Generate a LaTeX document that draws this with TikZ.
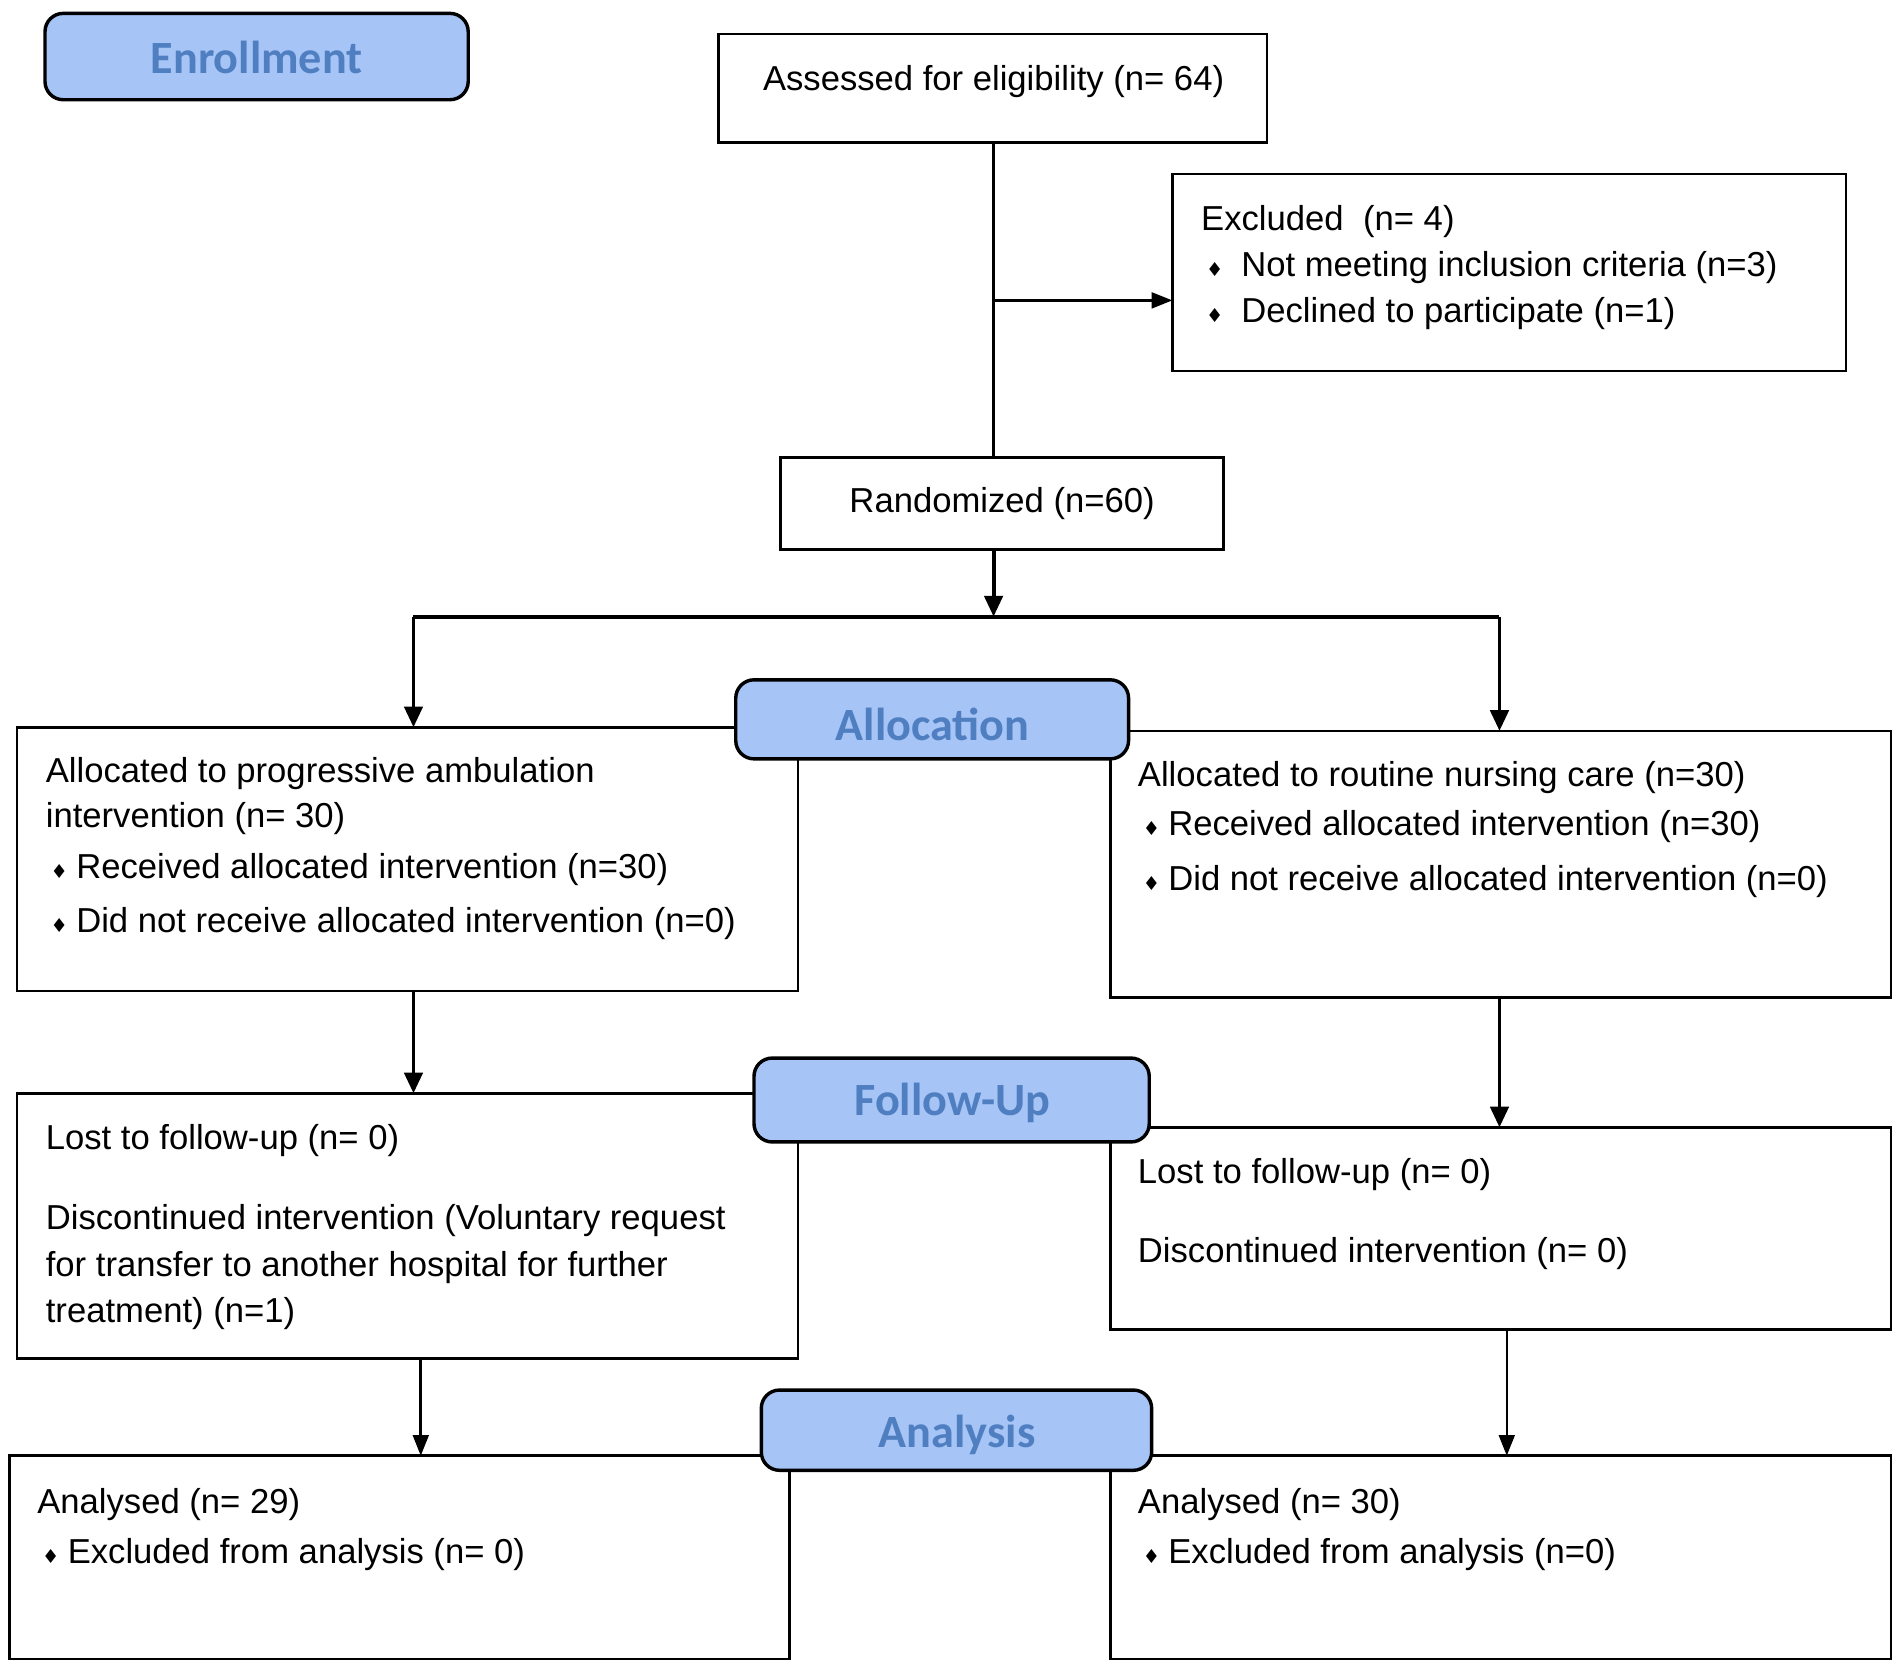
\documentclass[tikz,border=0pt]{standalone}
\usepackage{fontspec}
\setmainfont{Liberation Sans}
\newfontfamily\stagefont{Carlito}
\newfontfamily\symfont{DejaVu Sans}
\usetikzlibrary{arrows.meta,fit}
\definecolor{stagefill}{HTML}{A6C4F6}
\definecolor{stagetext}{HTML}{4F7FC0}
\newcommand{\bul}[1][0.21cm]{\makebox[#1][l]{{\symfont\fontsize{4.5}{5}\selectfont ♦}}}
\tikzset{
	box/.style={draw, line width=0.6pt, inner sep=0pt, outer sep=0pt},
	stage/.style={draw, line width=0.8pt, fill=stagefill, rounded corners=1.5mm, inner sep=0pt},
	stagetxt/.style={inner sep=0pt, text=stagetext, font=\stagefont\bfseries\fontsize{10.8}{13}\selectfont},
	txt/.style={anchor=west, inner sep=0pt, font=\fontsize{8.1}{9.7}\selectfont},
	link/.style={line width=0.6pt},
	arr/.style={line width=0.6pt, -{Triangle[length=1.7mm,width=1.3mm]}},
	bigarr/.style={line width=0.9pt, -{Triangle[length=1.7mm,width=1.5mm]}}
}
\begin{document}
\begin{tikzpicture}[x=0.01cm, y=-0.01cm]
	\useasboundingbox[fill=white] (0,0) rectangle (1564,1375);
	% boxes
	\node[box, fit={(591,28) (1042,117)}] (assess) {};
	\node[box, fit={(964,143) (1518,305)}] (excl) {};
	\node[box, fit={(642,376) (1006,452)}] (rand) {};
	\node[box, fit={(14,598) (656,815)}] (allocL) {};
	\node[box, fit={(913,601) (1555,820)}] (allocR) {};
	\node[box, fit={(14,899) (656,1117)}] (fuL) {};
	\node[box, fit={(913,927) (1555,1093)}] (fuR) {};
	\node[box, fit={(8,1197) (649,1364)}] (anL) {};
	\node[box, fit={(913,1197) (1555,1364)}] (anR) {};

	\node[txt, anchor=center] (assess-1) at (817,67) {Assessed for eligibility (n= 64)};
	\node[txt, anchor=center] (rand-1) at (824,414) {Randomized (n=60)};

	\node[txt] (excl-1) at (987,182) {Excluded\hspace{0.16cm}(n= 4)};
	\node[txt] (excl-2) at (991,220) {\bul[0.29cm]Not meeting inclusion criteria (n=3)};
	\node[txt] (excl-3) at (991,258) {\bul[0.29cm]Declined to participate (n=1)};

	\node[txt] (allocL-1) at (37,636) {Allocated to progressive ambulation};
	\node[txt] (allocL-2) at (37,673) {intervention (n= 30)};
	\node[txt] (allocL-3) at (41,715) {\bul Received allocated intervention (n=30)};
	\node[txt] (allocL-4) at (41,759) {\bul Did not receive allocated intervention (n=0)};

	\node[txt] (allocR-1) at (935,639) {Allocated to routine nursing care (n=30)};
	\node[txt] (allocR-2) at (939,680) {\bul Received allocated intervention (n=30)};
	\node[txt] (allocR-3) at (939,725) {\bul Did not receive allocated intervention (n=0)};

	\node[txt] (fuL-1) at (37,938) {Lost to follow-up (n= 0)};
	\node[txt] (fuL-2) at (37,1004) {Discontinued intervention (Voluntary request};
	\node[txt] (fuL-3) at (37,1042) {for transfer to another hospital for further};
	\node[txt] (fuL-4) at (37,1080) {treatment) (n=1)};

	\node[txt] (fuR-1) at (935,966) {Lost to follow-up (n= 0)};
	\node[txt] (fuR-2) at (935,1031) {Discontinued intervention (n= 0)};

	\node[txt] (anL-1) at (30,1237) {Analysed (n= 29)};
	\node[txt] (anL-2) at (34,1278) {\bul Excluded from analysis (n= 0)};

	\node[txt] (anR-1) at (935,1237) {Analysed (n= 30)};
	\node[txt] (anR-2) at (939,1278) {\bul Excluded from analysis (n=0)};

	% connectors
	\coordinate (trunk) at (817,117);
	\coordinate (branch) at (817,247);
	\coordinate (split) at (817,507);
	\coordinate (splitL) at (340,507);
	\coordinate (splitR) at (1233,507);
	\coordinate (downL) at (346,1117);
	\coordinate (downR) at (1239,1093);
	\draw[link] (trunk) -- (trunk |- rand.north);
	\draw[arr] (branch) -- (branch -| excl.west);
	\draw[bigarr] (trunk |- rand.south) -- (split);
	\draw[link, line width=0.9pt] (splitL) -- (splitR);
	\draw[bigarr] (splitL) -- (splitL |- allocL.north);
	\draw[bigarr] (splitR) -- (splitR |- allocR.north);
	\draw[bigarr] (splitL |- allocL.south) -- (splitL |- fuL.north);
	\draw[bigarr] (splitR |- allocR.south) -- (splitR |- fuR.north);
	\draw[arr] (downL) -- (downL |- anL.north);
	\draw[arr] (downR) -- (downR |- anR.north);

	% stage labels
	\node[stage, fit={(37,11) (385,82)}] (enrol) {};
	\node[stage, fit={(605,559) (928,624)}] (alloc) {};
	\node[stage, fit={(620,870) (945,939)}] (follow) {};
	\node[stage, fit={(626,1143) (947,1209)}] (analysis) {};
	\node[stagetxt] (enrol-1) at (211,47) {Enrollment};
	\node[stagetxt] (alloc-1) at (767,596) {Allocation};
	\node[stagetxt] (follow-1) at (783,907) {Follow-Up};
	\node[stagetxt] (analysis-1) at (787,1180) {Analysis};
\end{tikzpicture}
\end{document}
